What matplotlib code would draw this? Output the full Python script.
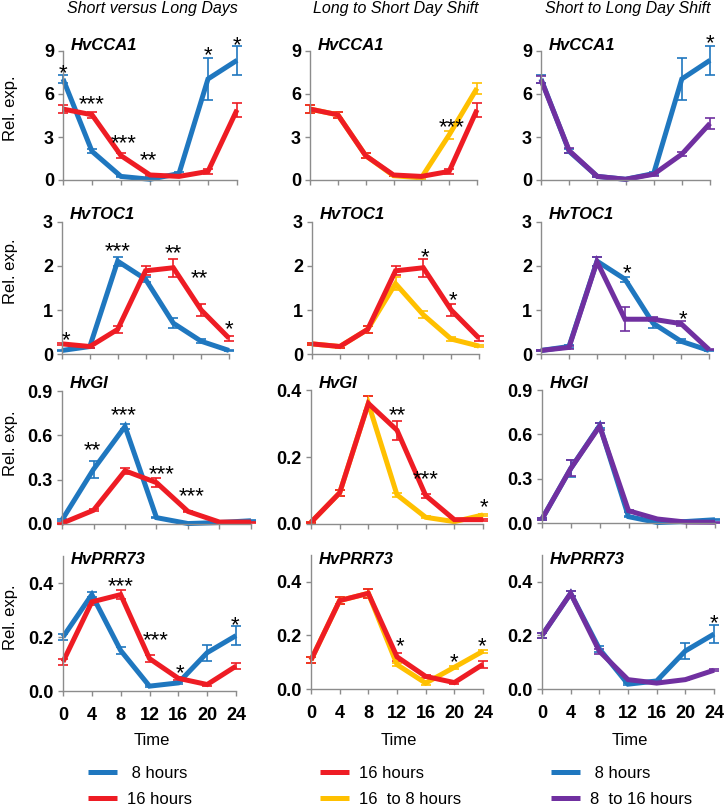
import matplotlib
matplotlib.use("Agg")
import matplotlib.pyplot as plt
from matplotlib.transforms import offset_copy

plt.rcParams["font.family"] = ["Liberation Sans", "DejaVu Sans"]

# ─── Paleta ──────────────────────────────────────────────────────────────────
BLUE   = "#1F77BF"
RED    = "#EE1C24"
YELLOW = "#FFC000"
PURPLE = "#7030A0"
SPINE  = "#8C8C8C"

W, H = 725, 805

# ─── Dados ───────────────────────────────────────────────────────────────────
TIME = [0, 4, 8, 12, 16, 20, 24]
GENES = ["HvCCA1", "HvTOC1", "HvGI", "HvPRR73"]
COL_TITLES = ["Short versus Long Days", "Long to Short Day Shift", "Short to Long Day Shift"]
LEGEND_LABELS = [[" 8 hours", "16 hours"], ["16 hours", "16  to 8 hours"], [" 8 hours", "8  to 16 hours"]]
LEGEND_COLORS = [[BLUE, RED], [RED, YELLOW], [BLUE, PURPLE]]

# HvCCA1
CCA1_8H      = [7.05, 2.0, 0.25, 0.05, 0.45, 7.05, 8.35]
CCA1_8H_SD   = [0.25, 0.15, 0.05, 0.02, 0.1, 1.45, 1.0]
CCA1_16H     = [4.95, 4.55, 1.7, 0.35, 0.25, 0.6, 4.9]
CCA1_16H_SD  = [0.3, 0.2, 0.15, 0.05, 0.05, 0.15, 0.5]
CCA1_16T8    = [4.95, 4.55, 1.7, 0.3, 0.15, 3.15, 6.4]
CCA1_16T8_SD = [0.3, 0.2, 0.15, 0.05, 0.05, 0.3, 0.4]
CCA1_8T16    = [7.0, 2.05, 0.25, 0.05, 0.4, 1.8, 3.95]
CCA1_8T16_SD = [0.25, 0.15, 0.05, 0.02, 0.1, 0.15, 0.4]

# HvTOC1
TOC1_8H      = [0.08, 0.17, 2.11, 1.70, 0.70, 0.29, 0.08]
TOC1_8H_SD   = [0.02, 0.03, 0.1, 0.06, 0.12, 0.04, 0.02]
TOC1_16H     = [0.23, 0.17, 0.56, 1.89, 1.96, 1.0, 0.36]
TOC1_16H_SD  = [0.02, 0.03, 0.08, 0.1, 0.2, 0.13, 0.06]
TOC1_16T8    = [0.23, 0.17, 0.56, 1.6, 0.89, 0.34, 0.18]
TOC1_16T8_SD = [0.02, 0.03, 0.08, 0.15, 0.08, 0.04, 0.03]
TOC1_8T16    = [0.08, 0.15, 2.1, 0.79, 0.79, 0.69, 0.1]
TOC1_8T16_SD = [0.02, 0.03, 0.1, 0.27, 0.05, 0.05, 0.02]

# HvGI
GI_8H      = [0.027, 0.37, 0.66, 0.043, 0.003, 0.01, 0.022]
GI_8H_SD   = [0.005, 0.057, 0.02, 0.005, 0.002, 0.003, 0.005]
GI_16H     = [0.005, 0.093, 0.36, 0.28, 0.085, 0.013, 0.013]
GI_16H_SD  = [0.002, 0.008, 0.022, 0.028, 0.006, 0.003, 0.003]
GI_16T8    = [0.005, 0.093, 0.36, 0.087, 0.02, 0.007, 0.027]
GI_16T8_SD = [0.002, 0.008, 0.022, 0.007, 0.003, 0.002, 0.004]
GI_8T16    = [0.027, 0.37, 0.655, 0.083, 0.027, 0.006, 0.005]
GI_8T16_SD = [0.005, 0.055, 0.025, 0.008, 0.004, 0.002, 0.002]

# HvPRR73
PRR73_8H      = [0.2, 0.357, 0.15, 0.018, 0.03, 0.142, 0.205]
PRR73_8H_SD   = [0.01, 0.01, 0.012, 0.004, 0.004, 0.03, 0.035]
PRR73_16H     = [0.108, 0.33, 0.357, 0.12, 0.047, 0.024, 0.092]
PRR73_16H_SD  = [0.012, 0.012, 0.018, 0.014, 0.005, 0.005, 0.012]
PRR73_16T8    = [0.108, 0.33, 0.357, 0.091, 0.022, 0.081, 0.141]
PRR73_16T8_SD = [0.012, 0.012, 0.018, 0.006, 0.008, 0.006, 0.005]
PRR73_8T16    = [0.2, 0.357, 0.141, 0.035, 0.022, 0.035, 0.07]
PRR73_8T16_SD = [0.01, 0.01, 0.01, 0.004, 0.003, 0.003, 0.004]

# asteriscos de significancia: (tempo, y do centro, texto)
STARS = [
    [[(0, 7.9, "*"), (4, 5.8, "***"), (8.3, 3.06, "***"), (11.8, 1.86, "**"), (20, 9.2, "*"), (24, 9.9, "*")],
     [(20.4, 4.2, "***")],
     [(24, 10.0, "*")]],
    [[(0.6, 0.47, "*"), (8, 2.5, "***"), (16, 2.45, "**"), (19.7, 1.88, "**"), (24, 0.72, "*")],
     [(16.2, 2.36, "*"), (20.2, 1.39, "*")],
     [(12.3, 2.0, "*"), (20.3, 0.94, "*")]],
    [[(3.9, 0.545, "**"), (7.8, 0.78, "***"), (12.7, 0.387, "***"), (16.5, 0.234, "***")],
     [(12.05, 0.345, "**"), (16.0, 0.153, "***"), (24.1, 0.072, "*")],
     []],
    [[(8, 0.412, "***"), (12.8, 0.214, "***"), (16.2, 0.09, "*"), (23.9, 0.27, "*")],
     [(12.4, 0.185, "*"), (19.9, 0.125, "*"), (23.9, 0.185, "*")],
     [(24, 0.27, "*")]],
]

# series por painel (ordem de desenho)
PANELS = [
    [[(CCA1_8H, CCA1_8H_SD, BLUE), (CCA1_16H, CCA1_16H_SD, RED)],
     [(CCA1_16T8, CCA1_16T8_SD, YELLOW), (CCA1_16H, CCA1_16H_SD, RED)],
     [(CCA1_8H, CCA1_8H_SD, BLUE), (CCA1_8T16, CCA1_8T16_SD, PURPLE)]],
    [[(TOC1_8H, TOC1_8H_SD, BLUE), (TOC1_16H, TOC1_16H_SD, RED)],
     [(TOC1_16T8, TOC1_16T8_SD, YELLOW), (TOC1_16H, TOC1_16H_SD, RED)],
     [(TOC1_8H, TOC1_8H_SD, BLUE), (TOC1_8T16, TOC1_8T16_SD, PURPLE)]],
    [[(GI_8H, GI_8H_SD, BLUE), (GI_16H, GI_16H_SD, RED)],
     [(GI_16T8, GI_16T8_SD, YELLOW), (GI_16H, GI_16H_SD, RED)],
     [(GI_8H, GI_8H_SD, BLUE), (GI_8T16, GI_8T16_SD, PURPLE)]],
    [[(PRR73_8H, PRR73_8H_SD, BLUE), (PRR73_16H, PRR73_16H_SD, RED)],
     [(PRR73_16T8, PRR73_16T8_SD, YELLOW), (PRR73_16H, PRR73_16H_SD, RED)],
     [(PRR73_8H, PRR73_8H_SD, BLUE), (PRR73_8T16, PRR73_8T16_SD, PURPLE)]],
]

# ─── Layout (pixels: esquerda, direita, topo, base) ─────────────────────────
AX_BOX = [
    [(63, 237, 51, 180), (310, 477, 51, 180), (541, 710, 51, 180)],
    [(62, 229, 222, 354), (312, 479, 222, 354), (541, 709, 222, 354)],
    [(62, 251, 391, 524), (311, 483, 390, 524), (542, 715, 390, 523)],
    [(63, 236, 556, 691), (311, 483, 555, 689), (542, 714, 555, 689)],
]
YSCALE = [
    [(9, [0, 3, 6, 9], "{:.0f}")] * 3,
    [(3, [0, 1, 2, 3], "{:.0f}")] * 3,
    [(0.9, [0, 0.3, 0.6, 0.9], "{:.1f}"), (0.4, [0, 0.2, 0.4], "{:.1f}"), (0.9, [0, 0.3, 0.6, 0.9], "{:.1f}")],
    [(0.5, [0, 0.2, 0.4], "{:.1f}")] * 3,
]
GENE_BASE = [50, 219, 388, 564]
YLABEL_Y = [108, 271, 443, 617]
LEG_X = [88, 320, 551]
STAR_FS = 16


def fx(px):
    return px / W


def fy(py):
    return 1 - py / H


fig = plt.figure(figsize=(W / 100, H / 100), dpi=100)
fig.patch.set_facecolor("white")

for r in range(4):
    for c in range(3):
        left, right, top, bottom = AX_BOX[r][c]
        ax = fig.add_axes([fx(left), fy(bottom), (right - left) / W, (bottom - top) / H])
        by_color = {}
        for vals, sd, color in PANELS[r][c]:
            cont = ax.errorbar(TIME, vals, yerr=sd, color=color, lw=3.6,
                               elinewidth=1.2, capsize=3.5, capthick=1.2,
                               solid_capstyle="butt", solid_joinstyle="miter",
                               clip_on=False)
            for art in [cont.lines[0], *cont.lines[1], *cont.lines[2]]:
                art.set_clip_on(False)
            by_color[color] = cont.lines[0]

        ymax, yt, fmt = YSCALE[r][c]
        ax.set_xlim(0, 24)
        ax.set_ylim(0, ymax)
        ax.set_yticks(yt)
        ax.set_yticklabels([fmt.format(v) for v in yt], fontsize=13, fontweight="bold")
        ax.set_xticks(TIME)
        if r == 3:
            ax.set_xticklabels([str(t) for t in TIME], fontsize=13, fontweight="bold")
        else:
            ax.set_xticklabels([])
        for s in ("top", "right"):
            ax.spines[s].set_visible(False)
        for s in ("left", "bottom"):
            ax.spines[s].set_color(SPINE)
            ax.spines[s].set_linewidth(1.0)
        ax.tick_params(axis="x", direction="out", length=3.5, width=1.0, color=SPINE, pad=8)
        ax.tick_params(axis="y", direction="out", length=3.5, width=1.0, color=SPINE, pad=3)

        # asteriscos
        trans = offset_copy(ax.transData, fig=fig, x=0, y=-0.58 * STAR_FS, units="points")
        for t, y, txt in STARS[r][c]:
            ax.text(t, y, txt, transform=trans, ha="center", va="baseline",
                    fontsize=STAR_FS, color="black", clip_on=False)

        # nome do gene
        fig.text(fx(left + 8), fy(GENE_BASE[r]), GENES[r], fontsize=12,
                 fontweight="bold", fontstyle="italic", ha="left", va="baseline")

        if c == 0:
            fig.text(fx(11), fy(YLABEL_Y[r]), "Rel. exp.", fontsize=12,
                     rotation=90, ha="center", va="center")

        if r == 3:
            fig.text(fx((left + right) / 2 + 2), fy(740), "Time", fontsize=12,
                     ha="center", va="center")
            handles = [by_color[col] for col in LEGEND_COLORS[c]]
            ax.legend(handles, LEGEND_LABELS[c], loc="upper left",
                      bbox_to_anchor=(fx(LEG_X[c]), fy(766)),
                      bbox_transform=fig.transFigure, frameon=False, fontsize=12,
                      handlelength=1.75, handletextpad=0.6, labelspacing=0.63,
                      borderpad=0, borderaxespad=0)

# titulos das colunas
for c, title in enumerate(COL_TITLES):
    left, right = AX_BOX[0][c][0], AX_BOX[0][c][1]
    fig.text(fx((left + right) / 2 + 2), fy(13), title, fontsize=11.5,
             fontstyle="italic", ha="center", va="baseline")

fig.savefig("out.png", dpi=100, facecolor="white")
